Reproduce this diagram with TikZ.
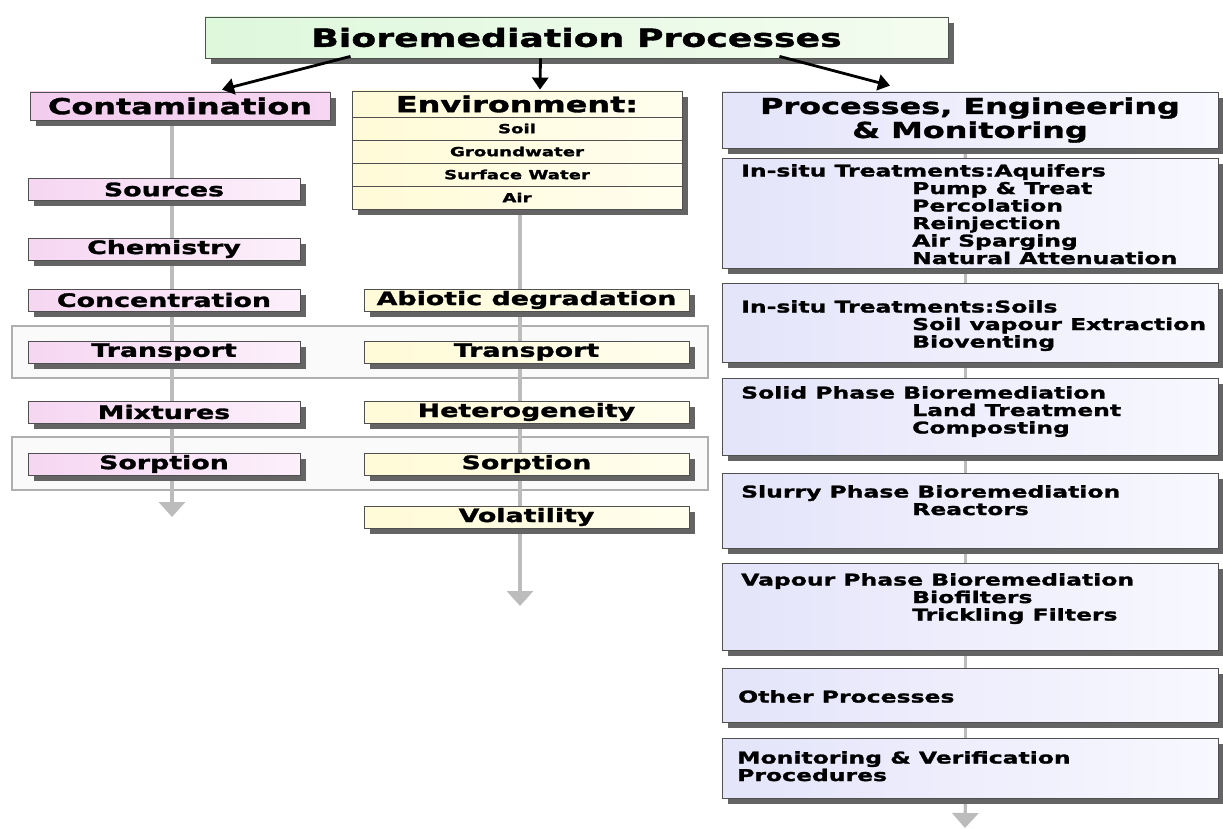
\documentclass[tikz,border=0pt]{standalone}
\usepackage{fontspec}
\newfontfamily\hv{DejaVu Sans}[FakeStretch=1.45, BoldFeatures={FakeBold=1.6}]
\usetikzlibrary{shadows,arrows.meta,backgrounds}
\definecolor{pinkc}{RGB}{243,205,238}
\definecolor{pinks}{RGB}{246,214,242}
\definecolor{pinkw}{RGB}{252,240,251}
\definecolor{creamc}{RGB}{255,251,215}
\definecolor{creamw}{RGB}{255,254,238}
\definecolor{lavc}{RGB}{228,228,250}
\definecolor{lavw}{RGB}{248,248,255}
\definecolor{titlec}{RGB}{222,248,220}
\definecolor{titlew}{RGB}{244,252,240}
\definecolor{bordc}{RGB}{80,80,80}
\definecolor{shadc}{RGB}{100,100,100}
\definecolor{grayarr}{RGB}{188,188,188}
\definecolor{groupfill}{RGB}{251,250,250}
\definecolor{groupdraw}{RGB}{175,175,175}
\begin{document}
\begin{tikzpicture}[x=1pt,y=-1pt,
  every node/.style={text=black},
  shad/.style={drop shadow={shadow xshift=6pt,shadow yshift=-6pt,fill=shadc,opacity=1}},
  boxbase/.style={draw=bordc, line width=0.8pt, inner sep=0pt, shad},
  titlebox/.style={boxbase, left color=titlec, right color=titlew, minimum width=743pt, minimum height=41pt,
    font=\hv\bfseries\fontsize{25}{28}\selectfont},
  headbox/.style={boxbase, minimum height=28pt, font=\hv\bfseries\fontsize{22}{24}\selectfont},
  subbox/.style={boxbase, minimum height=22pt, font=\hv\bfseries\fontsize{18.5}{20}\selectfont},
  pinksub/.style={subbox, left color=pinks, right color=pinkw, minimum width=272pt},
  yelsub/.style={subbox, left color=creamc, right color=creamw, minimum width=325pt},
  envrow/.style={draw=bordc, line width=0.8pt, inner sep=0pt, minimum width=330pt,
    font=\hv\bfseries\fontsize{12.5}{14}\selectfont},
  rbox/.style={boxbase, left color=lavc, right color=lavw, anchor=north west, minimum width=496pt},
  rtext/.style={anchor=north west, inner sep=0pt, align=left,
    font=\hv\bfseries\fontsize{16.2}{17.5}\selectfont},
  blkarrow/.style={line width=2.8pt, -{Triangle[width=16pt,length=12pt]}},
  grayline/.style={line width=3.4pt, draw=grayarr},
  grayarrow/.style={grayline, -{Triangle[width=26pt,length=15pt]}},
  groupbox/.style={draw=groupdraw, fill=groupfill, line width=1.2pt, inner sep=0pt}
]
\useasboundingbox (0,0) rectangle (1223,829);

% title
\node[titlebox] (title) at (576.5,37.5) {Bioremediation Processes};

% column heads
\node[headbox, left color=pinkc, right color=pinks, minimum width=300pt] (cont) at (180,106) {Contamination};

\node[boxbase, left color=creamc, right color=creamw, minimum width=330pt, minimum height=118pt] (env) at (517,150) {};
\node[envrow, minimum height=26pt, font=\hv\bfseries\fontsize{22}{24}\selectfont] (envh) at (517,104) {Environment:};
\node[envrow, minimum height=23pt] (soil) at (517,128.5) {Soil};
\node[envrow, minimum height=23pt] (gw) at (517,151.5) {Groundwater};
\node[envrow, minimum height=23pt] (sw) at (517,174.5) {Surface Water};
\node[envrow, minimum height=23pt] (air) at (517,197.5) {Air};

\node[headbox, left color=lavc, right color=lavw, minimum width=496pt, minimum height=56pt, align=center,
  font=\hv\bfseries\fontsize{22}{24}\selectfont] (proc) at (970,120) {Processes, Engineering\\\& Monitoring};

% left column
\node[pinksub] (sources) at (164,189.5) {Sources};
\node[pinksub] (chem) at (164,249) {Chemistry};
\node[pinksub] (conc) at (164,300) {Concentration};
\node[pinksub] (ltrans) at (164,352) {Transport};
\node[pinksub] (mix) at (164,412) {Mixtures};
\node[pinksub] (lsorp) at (164,464) {Sorption};

% middle column
\node[yelsub] (abio) at (526.5,300) {Abiotic degradation};
\node[yelsub] (mtrans) at (526.5,352) {Transport};
\node[yelsub] (het) at (526.5,412) {Heterogeneity};
\node[yelsub] (msorp) at (526.5,464) {Sorption};
\node[yelsub] (vol) at (526.5,517) {Volatility};

% right column
\node[rbox, minimum height=110pt] (r1) at (722,158) {};
\node[rtext] (t1) at (741,164) {In-situ Treatments:Aquifers\\
\hspace*{171pt}Pump \& Treat\\
\hspace*{171pt}Percolation\\
\hspace*{171pt}Reinjection\\
\hspace*{171pt}Air Sparging\\
\hspace*{171pt}Natural Attenuation};

\node[rbox, minimum height=79pt] (r2) at (722,283) {};
\node[rtext] (t2) at (741,300) {In-situ Treatments:Soils\\
\hspace*{171pt}Soil vapour Extraction\\
\hspace*{171pt}Bioventing};

\node[rbox, minimum height=77pt] (r3) at (722,378) {};
\node[rtext] (t3) at (741,386) {Solid Phase Bioremediation\\
\hspace*{171pt}Land Treatment\\
\hspace*{171pt}Composting};

\node[rbox, minimum height=75pt] (r4) at (722,473) {};
\node[rtext] (t4) at (741,485) {Slurry Phase Bioremediation\\
\hspace*{171pt}Reactors};

\node[rbox, minimum height=87pt] (r5) at (722,563) {};
\node[rtext] (t5) at (741,573) {Vapour Phase Bioremediation\\
\hspace*{171pt}Biofilters\\
\hspace*{171pt}Trickling Filters};

\node[rbox, minimum height=54pt] (r6) at (722,668) {};
\node[rtext] (t6) at (738,690) {Other Processes};

\node[rbox, minimum height=60pt] (r7) at (722,738) {};
\node[rtext] (t7) at (737,751) {Monitoring \& Verification\\Procedures};

% end points of the grey flows
\coordinate (cend) at (172,517);
\coordinate (mend) at (520,606);
\coordinate (rend) at (965,828);

\begin{scope}[on background layer]
  \fill[white] (0,0) rectangle (1223,829);
  \node[groupbox, minimum width=696pt, minimum height=52pt] (g1) at (360,352) {};
  \node[groupbox, minimum width=696pt, minimum height=53pt] (g2) at (360,463.5) {};
  \draw[grayarrow] ([xshift=-8pt]cont.south) -- (cend);
  \draw[grayarrow] ([xshift=3pt]env.south) -- (mend);
  \draw[grayline] ([xshift=-5pt]proc.south) -- ([xshift=-5pt]r1.north);
  \draw[grayline] ([xshift=-5pt]r1.south) -- ([xshift=-5pt]r2.north);
  \draw[grayline] ([xshift=-5pt]r2.south) -- ([xshift=-5pt]r3.north);
  \draw[grayline] ([xshift=-5pt]r3.south) -- ([xshift=-5pt]r4.north);
  \draw[grayline] ([xshift=-5pt]r4.south) -- ([xshift=-5pt]r5.north);
  \draw[grayline] ([xshift=-5pt]r5.south) -- ([xshift=-5pt]r6.north);
  \draw[grayline] ([xshift=-5pt]r6.south) -- ([xshift=-5pt]r7.north);
  \draw[grayarrow] ([xshift=-5pt]r7.south) -- (rend);
\end{scope}

% black arrows from the title
\draw[blkarrow] ([xshift=-226pt,yshift=2pt]title.south) -- ([xshift=42pt,yshift=2pt]cont.north);
\draw[blkarrow] ([xshift=-36pt]title.south) -- ([xshift=23pt,yshift=1pt]env.north);
\draw[blkarrow] ([xshift=203pt,yshift=2pt]title.south) -- ([xshift=-80pt,yshift=6pt]proc.north);
\end{tikzpicture}
\end{document}
